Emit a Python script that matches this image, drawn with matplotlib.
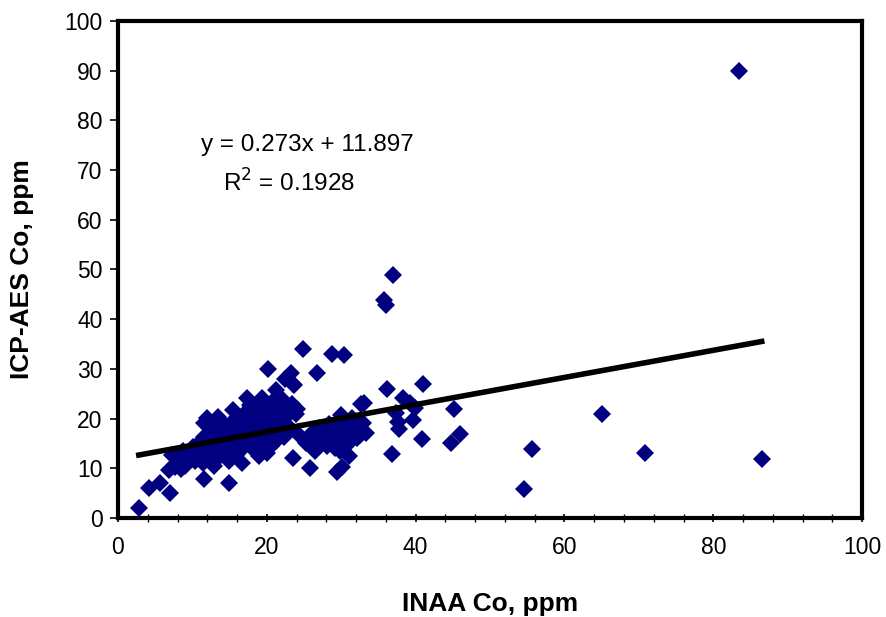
import numpy as np
import matplotlib.pyplot as plt
from matplotlib.ticker import MultipleLocator

plt.rcParams['font.family'] = ['Liberation Sans', 'DejaVu Sans']

# INAA Co (x) vs ICP-AES Co (y), ppm
inaa = [
    2.8, 4.2, 5.6, 7.0, 6.9, 8.0, 7.3, 7.6, 11.5, 14.9,
    8.2, 8.8, 9.3, 9.7, 10.1, 9.0, 10.4, 8.5,
    10.6, 10.9, 11.2, 11.5, 11.8, 12.0, 11.4, 12.2, 11.9, 12.6, 11.6,
    12.5, 12.8, 13.1, 13.4, 13.4, 13.7, 13.9, 12.9, 13.5, 14.2, 14.0,
    14.3, 14.6, 14.8, 15.1, 15.4, 15.2, 15.5, 15.7, 15.9, 16.1, 14.9, 16.0,
    16.3, 16.5, 16.7, 16.9, 17.1, 17.3, 17.4, 17.6, 17.8, 17.9, 16.6, 18.0, 16.8, 17.2,
    18.2, 18.4, 18.6, 18.8, 19.0, 19.2, 19.4, 19.5, 19.7, 19.9, 18.5, 20.0, 18.9, 19.6,
    20.1, 20.3, 20.5, 20.7, 20.9, 21.1, 21.3, 21.5, 21.7, 21.9, 20.6, 21.2,
    22.1, 22.4, 22.6, 22.8, 23.0, 23.3, 23.5, 23.7, 23.4, 23.9, 22.3, 23.5, 24.0, 24.2,
    24.8, 25.8, 25.3, 25.5, 26.2, 26.7, 26.5, 27.0, 27.4, 27.8, 28.1, 28.3, 28.6, 26.0,
    28.8, 30.4, 29.4, 30.1, 29.0, 29.5, 29.8, 30.3, 30.6, 30.9, 31.2, 31.5, 31.8, 32.1,
    32.5, 32.7, 33.1, 32.9, 33.3, 31.0, 29.2, 30.0,
    36.1, 41.0, 38.3, 39.2, 39.9, 37.3, 37.6, 37.8, 39.6, 45.2, 40.8, 46.0, 44.8, 36.8,
    36.9, 35.8, 36.0,
    54.6, 55.7, 65.1, 70.8, 83.5, 86.5,
    9.5, 10.8, 12.3, 13.0, 14.5, 15.8, 16.4, 17.0, 18.3, 19.1, 20.4, 21.0, 22.0, 15.0, 17.7,
]
icp = [
    2.0, 6.0, 7.0, 5.0, 9.7, 11.3, 12.7, 10.3, 7.8, 7.1,
    12.5, 13.5, 11.8, 12.9, 14.2, 10.5, 11.5, 9.8,
    13.2, 15.1, 12.4, 16.3, 13.8, 15.5, 11.0, 12.2, 20.1, 18.7, 19.1,
    14.3, 16.8, 13.0, 15.9, 20.3, 17.6, 14.6, 10.5, 12.1, 18.9, 16.2,
    13.5, 15.2, 17.3, 19.0, 21.7, 14.0, 16.4, 18.2, 12.6, 20.1, 11.4, 15.1,
    17.0, 19.2, 13.8, 21.0, 16.0, 24.1, 18.4, 20.3, 14.7, 22.3, 11.0, 17.5, 15.4, 19.9,
    19.1, 21.5, 16.5, 23.2, 18.0, 20.6, 24.1, 15.3, 22.0, 17.2, 13.2, 13.0, 12.4, 19.2,
    30.0, 21.1, 18.6, 23.4, 16.4, 20.0, 25.8, 22.1, 17.9, 19.4, 14.5, 15.5,
    24.0, 28.0, 21.2, 20.7, 18.3, 29.2, 27.0, 26.8, 22.9, 21.0, 16.2, 12.0, 21.9, 16.8,
    34.0, 10.1, 15.1, 16.0, 17.3, 29.2, 13.5, 18.2, 15.6, 16.8, 14.4, 19.0, 17.0, 15.0,
    33.0, 32.8, 9.3, 10.2, 15.5, 18.0, 13.5, 16.5, 19.5, 14.8, 17.4, 20.1, 18.5, 16.0,
    16.7, 22.9, 23.1, 19.2, 17.0, 12.5, 14.0, 20.7,
    26.0, 27.0, 24.1, 23.1, 22.1, 21.1, 19.3, 17.9, 19.7, 21.9, 15.9, 16.9, 15.1, 12.9,
    48.9, 43.9, 42.9,
    5.8, 13.9, 20.9, 13.1, 90.0, 11.9,
    13.0, 14.0, 16.9, 14.8, 16.8, 17.0, 18.2, 20.6, 20.9, 21.4, 22.6, 21.9, 23.0, 18.4, 22.8,
]

# trend line as printed on the chart
slope = 0.273
intercept = 11.897
r2 = 0.1928

fig = plt.figure(figsize=(8.87, 6.17), dpi=100)
ax = fig.add_axes([0.133, 0.1605, 0.839, 0.8055])

ax.plot(inaa, icp, 'D', color='#000080', markersize=9, markeredgewidth=0, zorder=2)

xs = np.array([min(inaa), max(inaa)])
ax.plot(xs, slope * xs + intercept, color='black', linewidth=4, zorder=3)

ax.text(25.4, 75.0, 'y = 0.273x + 11.897', fontsize=17.5, ha='center', va='center')
ax.text(23.0, 67.4, 'R$^2$ = %.4f' % r2, fontsize=17.5, ha='center', va='center')

ax.set_xlim(0, 100)
ax.set_ylim(0, 100)
ax.xaxis.set_major_locator(MultipleLocator(20))
ax.xaxis.set_minor_locator(MultipleLocator(4))
ax.yaxis.set_major_locator(MultipleLocator(10))
ax.tick_params(axis='both', which='major', labelsize=16.5, length=6, width=1.2, color='black')
ax.tick_params(axis='x', which='both', direction='inout')
ax.tick_params(axis='x', which='minor', length=6, width=1)
ax.tick_params(axis='x', pad=10)
ax.tick_params(axis='y', pad=5)

for s in ax.spines.values():
    s.set_linewidth(3)

ax.set_xlabel('INAA Co, ppm', fontsize=19, fontweight='bold', labelpad=24)
ax.set_ylabel('ICP-AES Co, ppm', fontsize=19, fontweight='bold', labelpad=22)

fig.savefig('out.png', dpi=100)
